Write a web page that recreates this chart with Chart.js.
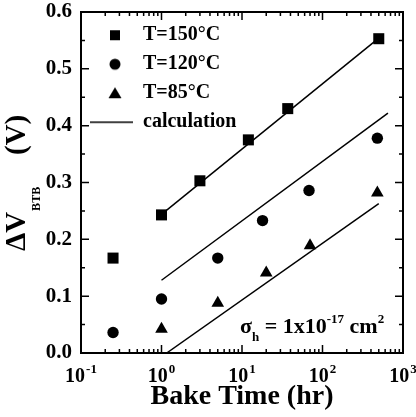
<!DOCTYPE html>
<html><head><meta charset="utf-8">
<script src="https://cdn.jsdelivr.net/npm/chart.js@4.4.0/dist/chart.umd.min.js"></script>
<style>html,body{margin:0;padding:0;background:#fff;}#wrap{width:416px;height:417px;position:relative;}</style>
</head><body><div id="wrap"><canvas id="c" width="416" height="417"></canvas></div>
<script>
// ---- data ----
const xTickValues = [0.1, 1, 10, 100, 1000];
const xTickBase = '10';
const xTickExponents = ['-1', '0', '1', '2', '3'];
const yTickValues = [0, 0.1, 0.2, 0.3, 0.4, 0.5, 0.6];

const t150Time  = [0.25, 1, 3, 12, 37, 500];
const t150Shift = [0.167, 0.243, 0.303, 0.375, 0.430, 0.553];
const t120Time  = [0.25, 1, 5, 18, 68, 480];
const t120Shift = [0.036, 0.095, 0.167, 0.233, 0.286, 0.378];
const t85Time   = [1, 5, 20, 70, 480];
const t85Shift  = [0.042, 0.088, 0.141, 0.189, 0.282];

const calc150Time  = [1, 500];
const calc150Shift = [0.244, 0.554];
const calc120Time  = [1, 650];
const calc120Shift = [0.128, 0.422];
const calc85Time   = [1.16, 500];
const calc85Shift  = [0, 0.263];

const legendLabels = ['T=150\u00B0C', 'T=120\u00B0C', 'T=85\u00B0C', 'calculation'];

const FONT = '"Liberation Serif", "Times New Roman", serif';
const pts = (xs, ys) => xs.map((x, i) => ({x: x, y: ys[i]}));

// legend marker images
function legendImg(kind) {
  const c = document.createElement('canvas');
  c.width = 43; c.height = 16;
  const g = c.getContext('2d');
  g.fillStyle = '#000'; g.strokeStyle = '#000';
  const cx = 25, cy = 8;
  if (kind === 'rect') { g.fillRect(cx - 5, cy - 5, 10, 10); }
  else if (kind === 'circle') { g.beginPath(); g.arc(cx, cy, 5.5, 0, Math.PI * 2); g.fill(); }
  else if (kind === 'triangle') { g.beginPath(); g.moveTo(cx, cy - 6); g.lineTo(cx + 6.5, cy + 5); g.lineTo(cx - 6.5, cy + 5); g.closePath(); g.fill(); }
  else { g.lineWidth = 1.5; g.beginPath(); g.moveTo(0, cy); g.lineTo(43, cy); g.stroke(); }
  return c;
}
const legendStyles = ['rect', 'circle', 'triangle', 'line'].map(legendImg);

const frameTicks = {
  id: 'frameTicks',
  afterDraw(chart) {
    const {ctx, chartArea: a, scales} = chart;
    const xs = scales.x, ys = scales.y;
    ctx.save();
    ctx.strokeStyle = '#000';
    ctx.lineWidth = 1.5;
    ctx.beginPath();
    const tick = (x1, y1, x2, y2) => { ctx.moveTo(x1, y1); ctx.lineTo(x2, y2); };
    for (let k = -1; k <= 3; k++) {
      const v = Math.pow(10, k);
      const px = xs.getPixelForValue(v);
      tick(px, a.bottom, px, a.bottom - 8); tick(px, a.top, px, a.top + 8);
      if (k < 3) for (let m = 2; m <= 9; m++) {
        const p = xs.getPixelForValue(m * v);
        tick(p, a.bottom, p, a.bottom - 4); tick(p, a.top, p, a.top + 4);
      }
    }
    for (let i = 0; i <= 12; i++) {
      const v = i * 0.05;
      const py = ys.getPixelForValue(v);
      const len = (i % 2 === 0) ? 8 : 4;
      tick(a.left, py, a.left + len, py); tick(a.right, py, a.right - len, py);
    }
    ctx.stroke();
    ctx.lineWidth = 2;
    ctx.strokeRect(a.left, a.top, a.right - a.left, a.bottom - a.top);

    ctx.fillStyle = '#000';
    ctx.textBaseline = 'alphabetic';
    ctx.textAlign = 'left';

    // x tick labels 10^n at the scale's tick positions
    const bigT = 'bold 20px ' + FONT, supT = 'bold 13px ' + FONT;
    xs.ticks.forEach((t, i) => {
      const px = xs.getPixelForValue(t.value);
      ctx.font = bigT; const wb = ctx.measureText(xTickBase).width;
      ctx.font = supT; const we = ctx.measureText(xTickExponents[i]).width;
      const x0 = px - (wb + we + 1) / 2;
      ctx.font = bigT; ctx.fillText(xTickBase, x0, 382);
      ctx.font = supT; ctx.fillText(xTickExponents[i], x0 + wb + 1, 373);
    });

    // y axis title: ΔV_BTB (V)
    ctx.save();
    ctx.translate(25, 251);
    ctx.rotate(-Math.PI / 2);
    ctx.font = 'bold 29px ' + FONT;
    ctx.fillText('\u0394V', 0, 0);
    let w = ctx.measureText('\u0394V').width;
    ctx.font = 'bold 12px ' + FONT;
    ctx.fillText('BTB', w + 1, 15);
    ctx.font = 'bold 29px ' + FONT;
    ctx.fillText('(V)', 96, 0);
    ctx.restore();

    // annotation σ_h = 1x10^-17 cm^2
    let x = 240; const base = 333;
    const big = 'bold 22px ' + FONT, small = 'bold 13px ' + FONT;
    const put = (txt, f, dy) => { ctx.font = f; ctx.fillText(txt, x, base + dy); x += ctx.measureText(txt).width; };
    put('\u03C3', big, 0);
    put('h', small, 8);
    put(' = 1x10', big, 0);
    put('-17', small, -10);
    put(' cm', big, 0);
    put('2', small, -10);
    ctx.restore();
  }
};

new Chart(document.getElementById('c'), {
  type: 'scatter',
  data: {
    datasets: [
      {label: legendLabels[0], data: pts(t150Time, t150Shift), pointStyle: 'rect', pointRadius: 7.8, backgroundColor: '#000', borderColor: '#000', borderWidth: 0},
      {label: legendLabels[1], data: pts(t120Time, t120Shift), pointStyle: 'circle', pointRadius: 5.7, backgroundColor: '#000', borderColor: '#000', borderWidth: 0},
      {label: legendLabels[2], data: pts(t85Time, t85Shift), pointStyle: 'triangle', pointRadius: 7.3, backgroundColor: '#000', borderColor: '#000', borderWidth: 0},
      {label: legendLabels[3], data: pts(calc150Time, calc150Shift), showLine: true, pointRadius: 0, borderColor: '#000', borderWidth: 1.5},
      {label: legendLabels[3], data: pts(calc120Time, calc120Shift), showLine: true, pointRadius: 0, borderColor: '#000', borderWidth: 1.5},
      {label: legendLabels[3], data: pts(calc85Time, calc85Shift), showLine: true, pointRadius: 0, borderColor: '#000', borderWidth: 1.5}
    ]
  },
  options: {
    responsive: false,
    animation: false,
    events: [],
    color: '#000',
    layout: {padding: {left: 0, right: 13, top: 12, bottom: 0}},
    plugins: {
      tooltip: {enabled: false},
      legend: {
        position: 'chartArea',
        align: 'start',
        title: {display: true, text: '', color: '#000', font: {size: 1}, padding: {top: 15, bottom: 0}},
        labels: {
          usePointStyle: true,
          pointStyleWidth: 43,
          padding: 9,
          color: '#000',
          font: {family: FONT, size: 20, weight: 'bold'},
          generateLabels: () => legendLabels.map((t, i) => ({
            text: t, pointStyle: legendStyles[i], fillStyle: '#000', strokeStyle: '#000', fontColor: '#000', lineWidth: 0, hidden: false, datasetIndex: i
          }))
        }
      }
    },
    scales: {
      x: {
        type: 'logarithmic', min: 0.1, max: 1000,
        grid: {display: false, drawTicks: false},
        border: {display: false},
        afterBuildTicks: (s) => { s.ticks = xTickValues.map(v => ({value: v, major: true})); },
        afterFit: (s) => { s.height = 64; s.paddingLeft = 0; s.paddingRight = 0; },
        ticks: {display: false, autoSkip: false, maxRotation: 0},
        title: {display: true, text: 'Bake Time (hr)', color: '#000', font: {family: FONT, size: 28, weight: 'bold'}, padding: {top: 0, bottom: 3}}
      },
      y: {
        type: 'linear', min: 0, max: 0.6,
        grid: {display: false, drawTicks: false},
        border: {display: false},
        afterBuildTicks: (s) => { s.ticks = yTickValues.map(v => ({value: v})); },
        afterFit: (s) => { s.width = 81; s.paddingTop = 0; s.paddingBottom = 0; },
        ticks: {
          padding: 9, color: '#000',
          font: {family: FONT, size: 21, weight: 'bold'},
          callback: (v) => Number(v).toFixed(1)
        }
      }
    }
  },
  plugins: [frameTicks]
});
</script></body></html>
